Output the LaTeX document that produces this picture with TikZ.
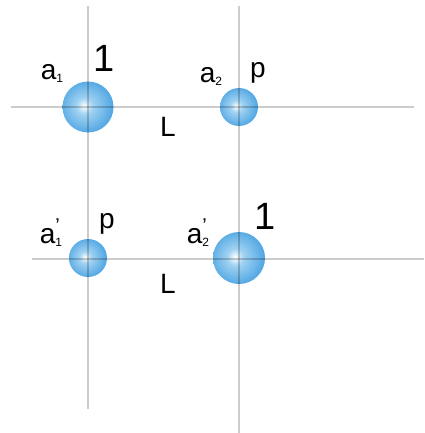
\documentclass[tikz,border=0pt]{standalone}
\usepackage{fontspec}
\setmainfont{Liberation Sans}
\definecolor{sphlight}{RGB}{160,210,242}
\definecolor{sphmid}{RGB}{75,163,226}
\definecolor{sphdark}{RGB}{32,120,198}
\pgfdeclareradialshading{sphere}{\pgfpoint{-4bp}{1bp}}{%
  color(0bp)=(white);
  color(8bp)=(sphlight);
  color(28bp)=(sphmid);
  color(50bp)=(sphdark);
  color(60bp)=(sphdark)}
\newcommand{\sbs}[1]{{\fontsize{12}{12}\selectfont\raisebox{-3pt}{#1}}}
\newcommand{\sbp}[1]{{\fontsize{12}{12}\selectfont\rlap{\raisebox{11pt}{\fontsize{20}{20}\selectfont ’}}\raisebox{-3pt}{#1}}}
\begin{document}
\begin{tikzpicture}[x=1pt,y=-1pt,
  guide/.style={draw=black,opacity=0.2,line width=1.3pt},
  ball/.style={circle,inner sep=0pt,shading=sphere},
  lbl/.style={anchor=base,inner sep=0pt,font=\fontsize{28}{28}\selectfont},
  big/.style={anchor=base,inner sep=0pt,font=\fontsize{38}{38}\selectfont}]
\useasboundingbox (0,0) rectangle (424,433);
% spheres
\node[ball,minimum size=51pt] (s1) at (88,107) {};
\node[ball,minimum size=38pt] (s2) at (239,107) {};
\node[ball,minimum size=38pt] (s3) at (88,258) {};
\node[ball,minimum size=52pt] (s4) at (239,258) {};
% guide lines
\coordinate (v1t) at (88,6); \coordinate (v1b) at (88,409);
\coordinate (v2t) at (239,6); \coordinate (v2b) at (239,433);
\coordinate (h1l) at (11,107); \coordinate (h1r) at (414,107);
\coordinate (h2l) at (32,259); \coordinate (h2r) at (424,259);
\draw[guide] (v1t) -- (v1b);
\draw[guide] (v2t) -- (v2b);
\draw[guide] (h1l) -- (h1r);
\draw[guide] (h2l) -- (h2r);
% labels
\node[lbl] (la1) at (52,80) {a\sbs{1}};
\node[big] (one1) at (104,72) {1};
\node[lbl] (L1) at (168,136) {L};
\node[lbl] (la2) at (211,83) {a\sbs{2}};
\node[lbl] (p1) at (258,78) {p};
\node[lbl] (la3) at (51,243) {a\sbp{1}};
\node[lbl] (p2) at (107,228) {p};
\node[lbl] (L2) at (168,293) {L};
\node[lbl] (la4) at (198,243) {a\sbp{2}};
\node[big] (one2) at (265,229) {1};
\end{tikzpicture}
\end{document}
